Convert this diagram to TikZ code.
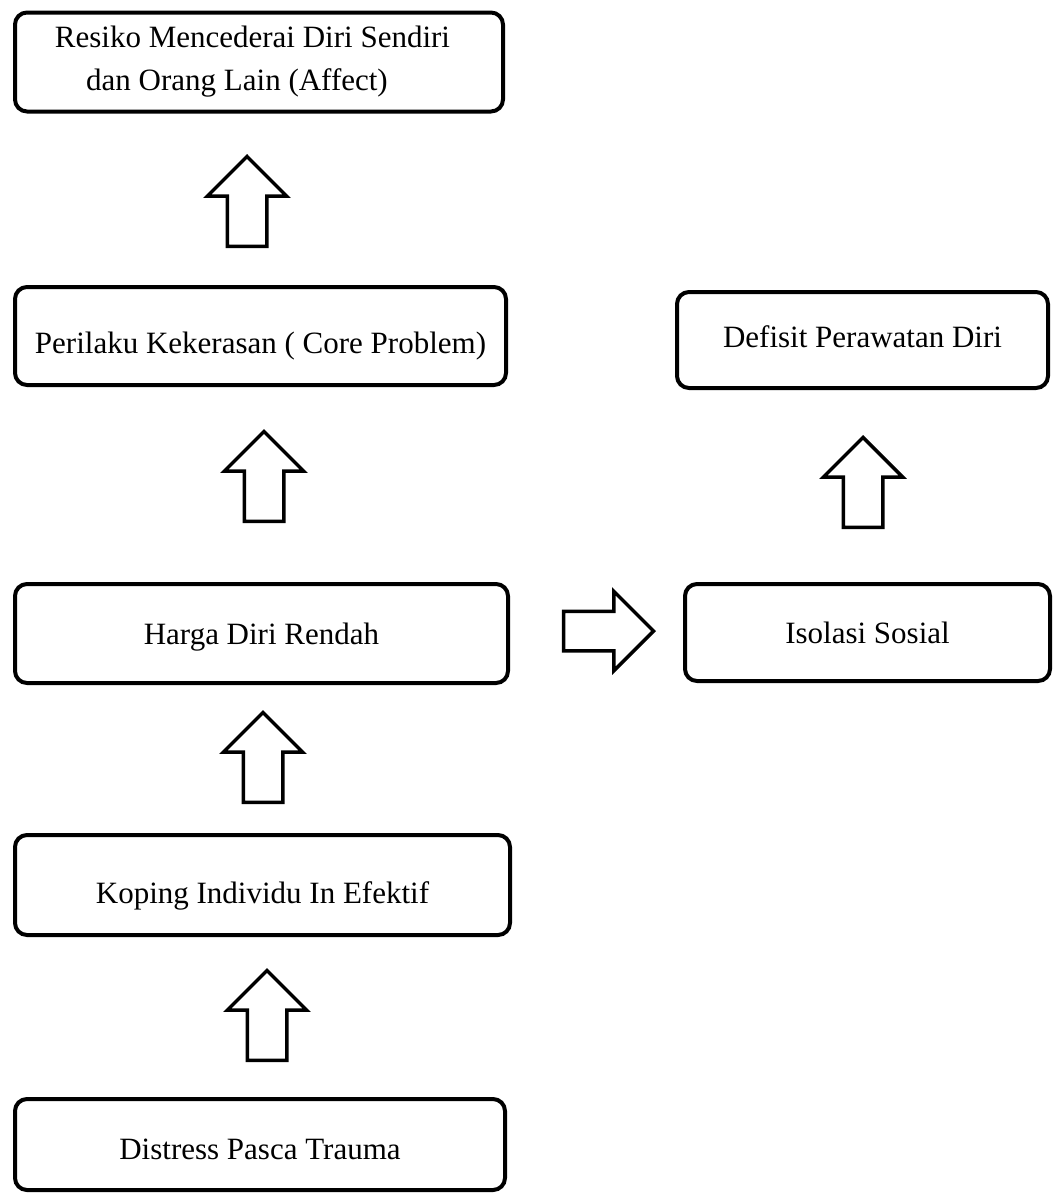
\documentclass[tikz,border=0pt]{standalone}
\usepackage{fontspec}
\setmainfont{Liberation Serif}
\usetikzlibrary{shapes.arrows}
\begin{document}
\begin{tikzpicture}[x=1pt, y=-1pt,
	kotak/.style={draw, line width=4pt, rounded corners=12pt, align=center, inner sep=0pt, font=\fontsize{31}{43}\selectfont},
	geser/.style={text height=#1, text depth=4pt},
	panah/.style={single arrow, draw, line width=3.5pt, inner sep=0pt, inner ysep=18pt, single arrow head extend=20pt, minimum height=90pt, minimum width=0pt, anchor=tip}]
				% batas gambar
				\useasboundingbox (0,0) rectangle (1053,1194);
				
				% kotak kiri
				\node[kotak, minimum width=488pt, minimum height=99pt] (resiko)   at (259,62)     {Resiko Mencederai Diri Sendiri\hspace*{13pt}\\dan Orang Lain (Affect)\hspace*{44pt}};
				\node[kotak, geser=38pt, minimum width=491pt, minimum height=98pt] (perilaku) at (260.5,336)  {Perilaku Kekerasan ( Core Problem)};
				\node[kotak, geser=25pt, minimum width=493pt, minimum height=99pt] (harga)    at (261.5,633.5){Harga Diri Rendah};
				\node[kotak, geser=40pt, minimum width=495pt, minimum height=100pt](koping)   at (262.5,885)  {Koping Individu In Efektif};
				\node[kotak, geser=33pt, minimum width=490pt, minimum height=91pt] (distress) at (260,1144.5) {Distress Pasca Trauma};
				
				% kotak kanan
				\node[kotak, geser=18pt, minimum width=371pt, minimum height=96pt] (defisit)  at (862.5,340)  {Defisit Perawatan Diri};
				\node[kotak, minimum width=365pt, minimum height=97pt] (isolasi)  at (867.5,632.5){Isolasi Sosial};
				
				% panah (ujung di koordinat)
				\node[panah, rotate=90] (p1) at (247,154)  {};
				\node[panah, rotate=90] (p2) at (264,429)  {};
				\node[panah, rotate=90] (p3) at (263,710)  {};
				\node[panah, rotate=90] (p4) at (267,968)  {};
				\node[panah, rotate=90] (p5) at (863,435)  {};
				\node[panah]            (p6) at (656,631)  {};
				\end{tikzpicture}
\end{document}
